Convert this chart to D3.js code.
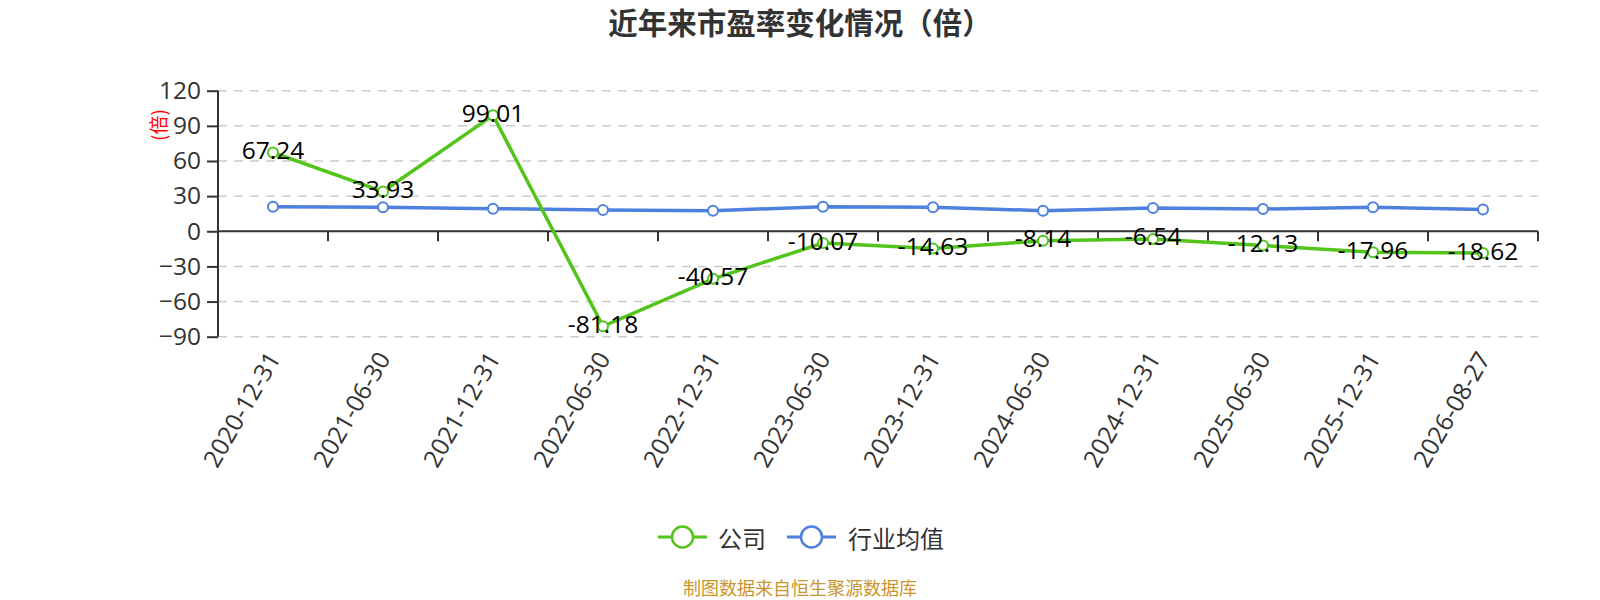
<!DOCTYPE html>
<html><head><meta charset="utf-8">
<script src="https://cdn.jsdelivr.net/npm/d3@7/dist/d3.min.js"></script>
<style>
body{margin:0;background:#fff;}
text{font-family:"Open Sans","Noto Sans CJK SC",sans-serif;}
</style></head>
<body><svg id="c" width="1600" height="600"></svg>
<script>
const categories = ["2020-12-31","2021-06-30","2021-12-31","2022-06-30","2022-12-31","2023-06-30","2023-12-31","2024-06-30","2024-12-31","2025-06-30","2025-12-31","2026-08-27"];
const companyValues = [67.24,33.93,99.01,-81.18,-40.57,-10.07,-14.63,-8.14,-6.54,-12.13,-17.96,-18.62];
const industryValues = [21.0,20.5,19.3,18.2,17.6,21.0,20.5,17.6,19.9,19.0,20.5,18.6];
const yTicks = [-90,-60,-30,0,30,60,90,120];
const seriesNames = ["公司","行业均值"];
const titleText = "近年来市盈率变化情况（倍）";
const yAxisName = "(倍)";
const footerText = "制图数据来自恒生聚源数据库";

const green = "#52c41a", blue = "#4e80e0";
const svg = d3.select("#c");
const L = 218, R = 1538, T = 90.7, B = 336.7;

const x = d3.scaleBand().domain(categories).range([L, R]);
const y = d3.scaleLinear().domain([-90, 120]).range([B, T]);
const cx = d => x(d) + x.bandwidth()/2;

// title
svg.append("text").attr("x", 800).attr("y", 21).attr("text-anchor","middle")
  .attr("dominant-baseline","central").attr("font-size",29.5).attr("font-weight","bold")
  .attr("fill","#333").style("font-family",'"Noto Sans CJK SC",sans-serif').text(titleText);

// grid
svg.append("g").selectAll("line").data(yTicks.filter(v=>v!==0)).join("line")
  .attr("x1", L).attr("x2", R).attr("y1", d=>y(d)).attr("y2", d=>y(d))
  .attr("stroke","#ccc").attr("stroke-width",1.5).attr("stroke-dasharray","9,7");

// y axis
const yAxis = d3.axisLeft(y).tickValues(yTicks).tickSize(11).tickPadding(6).tickFormat(d3.format("d"));
const gy = svg.append("g").attr("transform",`translate(${L},0)`).call(yAxis);
gy.select(".domain").attr("stroke","#333").attr("stroke-width",2).attr("d",`M0,${T}V${B}`);
gy.selectAll(".tick line").attr("stroke","#333").attr("stroke-width",2);
gy.selectAll(".tick text").attr("font-size",24.5).attr("fill","#333")
  .style("font-family",'"Open Sans",sans-serif');

// y axis name
svg.append("text").attr("transform",`translate(157,125) rotate(-90)`).attr("text-anchor","middle")
  .attr("dominant-baseline","central").attr("font-size",19).attr("fill","red")
  .style("font-family",'"Noto Sans CJK SC",sans-serif').text(yAxisName);

// x axis at zero
const y0 = y(0);
svg.append("line").attr("x1",L).attr("x2",R).attr("y1",y0).attr("y2",y0)
  .attr("stroke","#333").attr("stroke-width",2);
const bounds = categories.slice(1).map(c=>x(c)).concat([R]);
svg.append("g").selectAll("line").data(bounds).join("line")
  .attr("x1",d=>d).attr("x2",d=>d).attr("y1",y0).attr("y2",y0+10)
  .attr("stroke","#333").attr("stroke-width",2);

// x labels
svg.append("g").selectAll("text").data(categories).join("text")
  .attr("transform", d=>`translate(${cx(d)},${B+17}) rotate(-60)`)
  .attr("text-anchor","end").attr("dominant-baseline","central")
  .attr("font-size",24.5).attr("fill","#333").text(d=>d);

// lines
const line = d3.line().x((d,i)=>cx(categories[i])).y(d=>y(d));
svg.append("path").datum(industryValues).attr("d",line).attr("fill","none")
  .attr("stroke",blue).attr("stroke-width",3.5);
svg.append("path").datum(companyValues).attr("d",line).attr("fill","none")
  .attr("stroke",green).attr("stroke-width",3.5);

svg.append("g").selectAll("circle").data(industryValues).join("circle")
  .attr("cx",(d,i)=>cx(categories[i])).attr("cy",d=>y(d)).attr("r",5)
  .attr("fill","#fff").attr("stroke",blue).attr("stroke-width",2);
svg.append("g").selectAll("circle").data(companyValues).join("circle")
  .attr("cx",(d,i)=>cx(categories[i])).attr("cy",d=>y(d)).attr("r",5)
  .attr("fill","#fff").attr("stroke",green).attr("stroke-width",2);

// labels
svg.append("g").selectAll("text").data(companyValues).join("text")
  .attr("x",(d,i)=>cx(categories[i])).attr("y",d=>y(d)+6.5)
  .attr("text-anchor","middle").attr("font-size",24.5).attr("fill","#000")
  .text(d=>d.toFixed(2));

// legend
const lg = svg.append("g");
const items = [{n:seriesNames[0],c:green,x0:658,tx:718},{n:seriesNames[1],c:blue,x0:787,tx:848}];
items.forEach(it=>{
  lg.append("line").attr("x1",it.x0).attr("x2",it.x0+49).attr("y1",537).attr("y2",537)
    .attr("stroke",it.c).attr("stroke-width",3);
  lg.append("circle").attr("cx",it.x0+24.5).attr("cy",537).attr("r",10.5)
    .attr("fill","#fff").attr("stroke",it.c).attr("stroke-width",2.5);
  lg.append("text").attr("x",it.tx).attr("y",537).attr("dominant-baseline","central")
    .attr("font-size",24).attr("fill","#333").style("font-family",'"Noto Sans CJK SC",sans-serif').text(it.n);
});

// footer
svg.append("text").attr("x",800).attr("y",587).attr("text-anchor","middle")
  .attr("dominant-baseline","central").attr("font-size",18).attr("fill","#c9952c")
  .style("font-family",'"Noto Sans CJK SC",sans-serif').text(footerText);
</script></body></html>
